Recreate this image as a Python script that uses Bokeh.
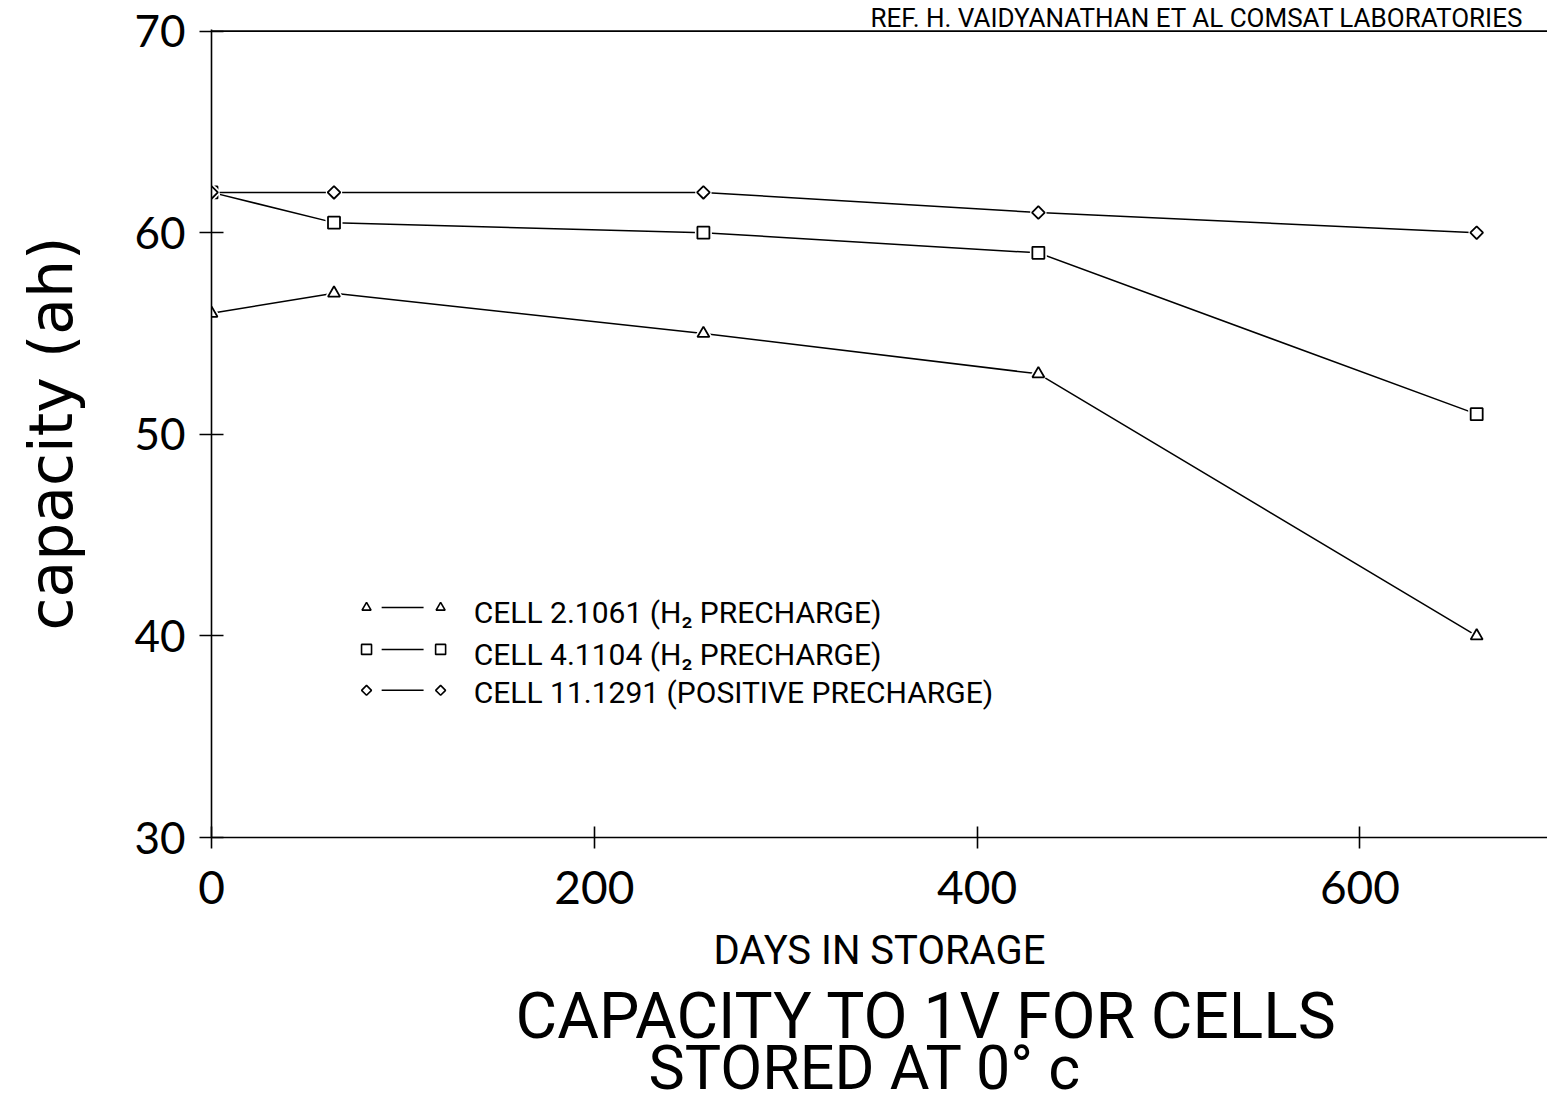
import math
from bokeh.plotting import figure
from bokeh.models import FixedTicker, ColumnDataSource, Title, Span
from bokeh.core.properties import value
from bokeh.embed import file_html
from bokeh.resources import INLINE

# ---- data ----
days = [0, 64, 257, 432, 661]
cell_2_1061 = [56.0, 57.0, 55.0, 53.0, 40.0]
cell_4_1104 = [62.0, 60.5, 60.0, 59.0, 51.0]
cell_11_1291 = [62.0, 62.0, 62.0, 61.0, 60.0]
series_labels = ["CELL 2.1061 (H\u2082 PRECHARGE)",
                 "CELL 4.1104 (H\u2082 PRECHARGE)",
                 "CELL 11.1291 (POSITIVE PRECHARGE)"]
series_markers = ["triangle", "square", "diamond"]
x_ticks = [0, 200, 400, 600]
y_ticks = [30, 40, 50, 60, 70]
x_label = "DAYS IN STORAGE"
y_label = "capacity (ah)"
title_lines = ["CAPACITY TO 1V FOR CELLS", "STORED AT 0\u00b0 c"]
ref_text = "REF. H. VAIDYANATHAN ET AL COMSAT LABORATORIES"

ROUND = "Lato"
NARROW = "Roboto"

p = figure(width=1547, height=1104, x_range=(0, 698), y_range=(30, 70.08),
           output_backend="svg", toolbar_location=None,
           min_border_left=211, min_border_right=0, min_border_top=29,
           min_border_bottom=267)
p.outline_line_color = None
p.grid.visible = False
p.background_fill_color = "white"
p.border_fill_color = "white"

# axes
for ax, ticks in ((p.xaxis[0], x_ticks), (p.yaxis[0], y_ticks)):
    ax.ticker = FixedTicker(ticks=ticks)
    ax.minor_tick_line_color = None
    ax.axis_line_width = 1.6
    ax.axis_line_color = "black"
    ax.major_tick_line_width = 1.6
    ax.major_tick_line_color = "black"
    ax.major_label_text_color = "black"
    ax.major_label_text_font = ROUND
    ax.axis_label_text_color = "black"
    ax.axis_label_text_font_style = "normal"

p.xaxis.major_tick_in = 11
p.xaxis.major_tick_out = 11
p.xaxis.major_label_text_font_size = "46px"
p.xaxis.major_label_standoff = 22
p.xaxis.axis_label = x_label
p.xaxis.axis_label_text_font = NARROW
p.xaxis.axis_label_text_font_size = "40px"
p.xaxis.axis_label_standoff = 20

p.yaxis.major_tick_in = 12
p.yaxis.major_tick_out = 12
p.yaxis.major_label_text_font_size = "44px"
p.yaxis.major_label_standoff = 14
p.yaxis.axis_label = y_label
p.yaxis.axis_label_text_font = "DejaVu Sans"
p.yaxis.axis_label_text_font_size = "60px"
p.yaxis.axis_label_standoff = 45

# top border line of the box
p.add_layout(Span(location=70, dimension="width", line_color="black", line_width=1.6))

# series
series = [cell_2_1061, cell_4_1104, cell_11_1291]
msize = {"triangle": 12, "square": 12, "diamond": 9}
mangle = {"triangle": 0.0, "square": 0.0, "diamond": math.pi / 4}
mshape = {"triangle": "triangle", "square": "square", "diamond": "square"}
for vals, mk in zip(series, series_markers):
    src = ColumnDataSource(dict(x=days, y=vals))
    p.line("x", "y", source=src, line_color="black", line_width=1.5)
    p.scatter("x", "y", source=src, marker=mshape[mk], size=msize[mk], angle=mangle[mk],
              fill_color="white", line_color="white", line_width=5)
    p.scatter("x", "y", source=src, marker=mshape[mk], size=msize[mk], angle=mangle[mk],
              fill_color="white", line_color="black", line_width=1.8)

# legend (manual, marker — line — marker)
leg_x0, leg_x1 = 81.0, 119.7
leg_l0, leg_l1 = 88.9, 110.8
leg_tx = 137.0
leg_my = [41.41, 39.33, 37.30]
leg_ty = [41.14, 39.06, 37.17]
lsize = {"triangle": 9, "square": 10, "diamond": 7}
for lab, mk, my, ty in zip(series_labels, series_markers, leg_my, leg_ty):
    p.segment(x0=leg_l0, y0=my, x1=leg_l1, y1=my, line_color="black", line_width=1.5)
    p.scatter(x=[leg_x0, leg_x1], y=[my, my], marker=mshape[mk], size=lsize[mk],
              angle=mangle[mk], fill_color="white", line_color="black", line_width=1.6)
    p.text(x=[leg_tx], y=[ty], text=[lab], text_font=value(NARROW),
           text_font_size="30px", text_color="black", text_baseline="alphabetic")

# reference note at the top
p.add_layout(Title(text=ref_text, align="left", offset=659, text_font=NARROW,
                   text_font_size="26px", text_font_style="normal",
                   text_color="black", standoff=-6), "above")

# two title lines below the axis
p.add_layout(Title(text=title_lines[0], align="left", offset=304, text_font=NARROW,
                   text_font_size="64px", text_font_style="normal",
                   text_color="black", standoff=0), "below")
p.add_layout(Title(text=title_lines[1], align="left", offset=437, text_font=NARROW,
                   text_font_size="61px", text_font_style="normal",
                   text_color="black", standoff=-48), "below")

open("out.html", "w").write(file_html(p, INLINE))
